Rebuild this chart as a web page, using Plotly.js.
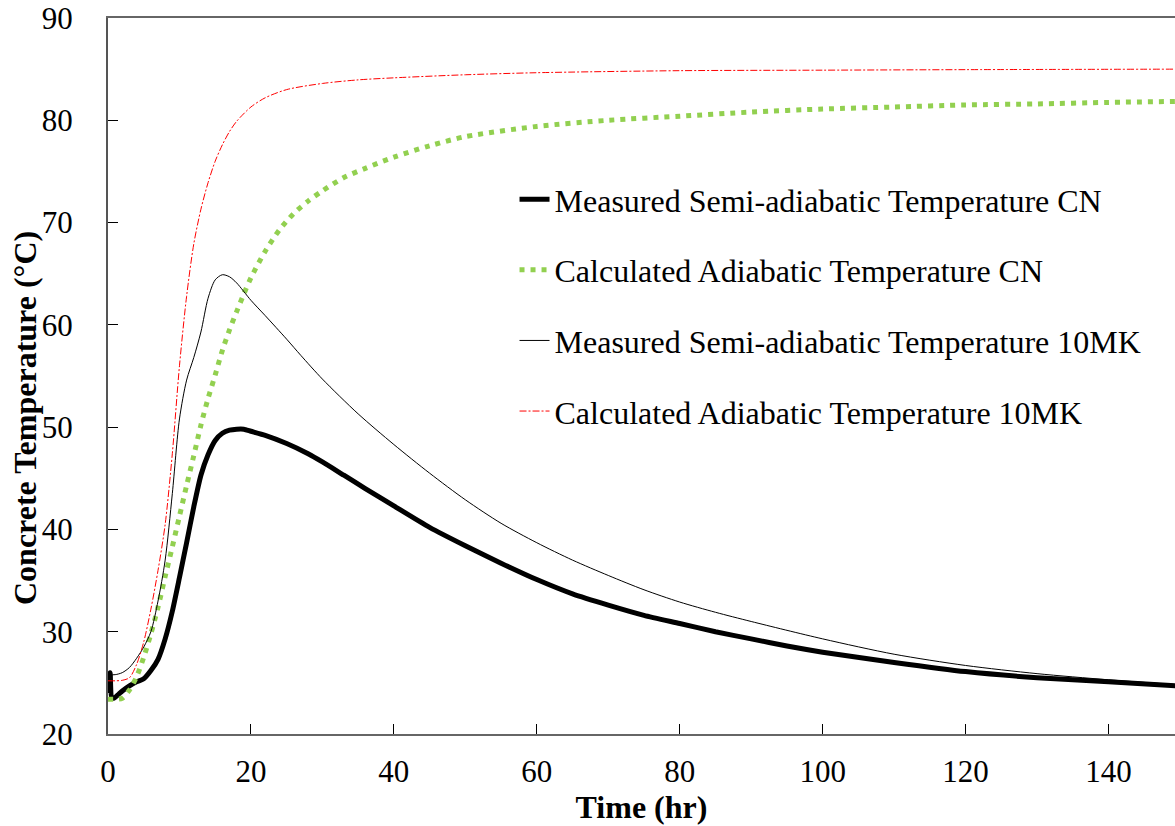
<!DOCTYPE html>
<html>
<head>
<meta charset="utf-8">
<script src="https://cdn.plot.ly/plotly-3.0.1.min.js"></script>
<style>html,body{margin:0;padding:0;background:#fff;}#chart{width:1175px;height:826px;}</style>
</head>
<body>
<div id="chart"></div>
<script>
// ---- Data ----
const seriesNames = [
  "Measured Semi-adiabatic Temperature CN",
  "Calculated Adiabatic Temperature CN",
  "Measured Semi-adiabatic Temperature 10MK",
  "Calculated Adiabatic Temperature 10MK"
];

const timeMeasCN = [0, 0.3, 0.5, 0.8, 1.5, 2, 3, 4, 5, 6, 7, 8, 9, 10, 11, 12, 13, 14, 15, 16, 17, 18, 19, 20, 22, 25, 28, 30, 33, 36, 40, 45, 50, 55, 60, 65, 70, 75, 80, 85, 90, 95, 100, 110, 120, 130, 140, 150];
const tempMeasCN = [24.0, 26.0, 23.6, 23.5, 23.9, 24.2, 24.7, 25.1, 25.4, 26.2, 27.3, 29.3, 32.0, 35.3, 38.7, 42.2, 45.3, 47.3, 48.7, 49.4, 49.7, 49.8, 49.8, 49.6, 49.2, 48.4, 47.4, 46.6, 45.3, 44.0, 42.3, 40.2, 38.4, 36.7, 35.1, 33.7, 32.6, 31.6, 30.8, 30.0, 29.3, 28.6, 28.0, 27.0, 26.1, 25.5, 25.1, 24.7];

const timeCalcCN = [0, 1, 2, 3, 4, 5, 6, 7, 8, 9, 10, 11, 12, 13, 14, 15, 16, 17, 18, 19, 20, 22, 24, 26, 28, 30, 33, 36, 40, 45, 50, 60, 70, 80, 90, 100, 110, 120, 130, 140, 150];
const tempCalcCN = [23.4, 23.4, 23.5, 24.3, 25.6, 27.5, 29.8, 32.4, 35.4, 38.3, 41.3, 44.3, 47.2, 50.2, 52.8, 55.1, 57.5, 59.5, 61.3, 63.0, 64.6, 67.2, 69.3, 70.9, 72.1, 73.1, 74.4, 75.3, 76.4, 77.5, 78.4, 79.4, 80.0, 80.4, 80.8, 81.1, 81.3, 81.5, 81.6, 81.75, 81.85];

const timeMeas10MK = [0, 1, 2, 3, 4, 5, 6, 7, 8, 9, 10, 11, 12, 13, 14, 15, 16, 17, 18, 20, 22, 25, 27, 30, 35, 40, 45, 50, 55, 60, 65, 70, 75, 80, 85, 90, 100, 110, 120, 130, 140, 150];
const tempMeas10MK = [25.8, 25.8, 26.0, 26.5, 27.4, 28.5, 30.0, 33.0, 37.0, 43.5, 50.8, 54.6, 56.8, 59.3, 62.6, 64.4, 64.9, 64.7, 64.1, 62.4, 60.9, 58.6, 57.0, 54.7, 51.3, 48.3, 45.5, 42.9, 40.6, 38.7, 37.0, 35.5, 34.1, 32.9, 31.9, 31.0, 29.3, 27.8, 26.7, 25.9, 25.3, 24.8];

const timeCalc10MK = [0, 1, 2, 3, 4, 5, 6, 7, 8, 9, 10, 11, 12, 13, 14, 15, 16, 17, 18, 20, 22, 25, 30, 35, 40, 50, 60, 80, 100, 120, 150];
const tempCalc10MK = [25.2, 25.2, 25.25, 25.5, 26.8, 29.0, 32.2, 36.0, 40.5, 47.4, 56.0, 62.8, 67.9, 71.3, 73.9, 76.0, 77.6, 78.9, 79.9, 81.3, 82.2, 83.0, 83.6, 83.95, 84.15, 84.45, 84.65, 84.85, 84.9, 84.95, 85.0];

const xTickVals = [0, 20, 40, 60, 80, 100, 120, 140];
const yTickVals = [20, 30, 40, 50, 60, 70, 80, 90];
const xTitle = "Time (hr)";
const yTitle = "Concrete Temperature (°C)";

// ---- Traces ----
const FONT = "Liberation Serif";
const traces = [
  {x: timeMeasCN, y: tempMeasCN, name: seriesNames[0], mode: "lines",
   line: {color: "#000000", width: 5, shape: "spline", smoothing: 0.6}, legendgroup: "a"},
  {x: timeCalcCN, y: tempCalcCN, name: seriesNames[1], mode: "lines",
   line: {color: "#92D050", width: 5, dash: "5px,6px", shape: "spline", smoothing: 0.8}, legendgroup: "b"},
  {x: timeMeas10MK, y: tempMeas10MK, name: seriesNames[2], mode: "lines",
   line: {color: "#000000", width: 1, shape: "spline", smoothing: 0.8}, legendgroup: "c"},
  {x: timeCalc10MK, y: tempCalc10MK, name: seriesNames[3], mode: "lines",
   line: {color: "#FF0000", width: 1, dash: "7px,2px,2px,2px", shape: "spline", smoothing: 0.8}, legendgroup: "d"}
];

const layout = {
  width: 1175, height: 826,
  margin: {l: 108, r: 0, t: 18, b: 92},
  paper_bgcolor: "#ffffff", plot_bgcolor: "#ffffff",
  font: {family: FONT, color: "#000000", size: 31},
  showlegend: true,
  legend: {
    x: 0.381, y: 0.785, xanchor: "left", yanchor: "top",
    bgcolor: "rgba(0,0,0,0)", borderwidth: 0,
    font: {family: FONT, size: 32, color: "#000000"},
    traceorder: "grouped", tracegroupgap: 26
  },
  xaxis: {
    range: [0, 149.3], tickvals: xTickVals, ticktext: xTickVals.map(String),
    ticks: "inside", ticklen: 10, tickwidth: 1, tickcolor: "#000000",
    showline: true, linecolor: "#666666", linewidth: 2, mirror: true,
    showgrid: false, zeroline: false,
    tickfont: {family: FONT, size: 31, color: "#000000"},
    ticklabelstandoff: 9,
    title: {text: "<b>" + xTitle + "</b>", font: {family: FONT, size: 32, color: "#000000"}, standoff: 0}
  },
  yaxis: {
    range: [20, 90], tickvals: yTickVals, ticktext: yTickVals.map(String),
    ticks: "inside", ticklen: 10, tickwidth: 1, tickcolor: "#000000",
    showline: true, linecolor: "#555555", linewidth: 2,
    showgrid: false, zeroline: false,
    tickfont: {family: FONT, size: 31, color: "#000000"},
    ticklabelstandoff: 27
  },
  annotations: [{
    text: "<b>" + yTitle + "</b>", textangle: -90, showarrow: false,
    xref: "paper", yref: "paper", x: -0.078, y: 0.441, xanchor: "center", yanchor: "middle",
    font: {family: FONT, size: 32, color: "#000000"}
  }]
};

Plotly.newPlot("chart", traces, layout, {displayModeBar: false, staticPlot: true});
</script>
</body>
</html>
